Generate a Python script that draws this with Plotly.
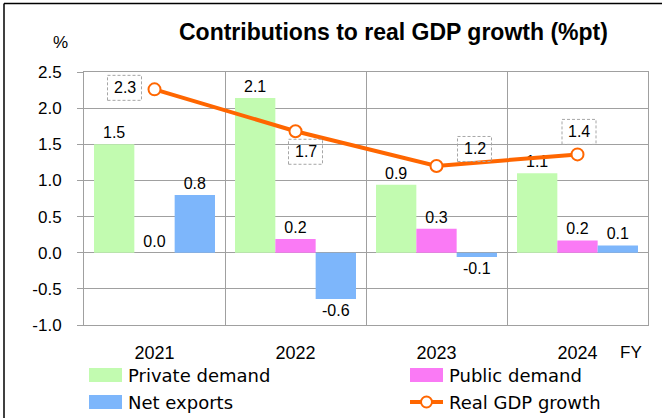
import plotly.graph_objects as go

# ---------------- data ----------------
years = ["2021", "2022", "2023", "2024"]
private_demand = [1.50, 2.14, 0.94, 1.10]
public_demand = [0.00, 0.19, 0.33, 0.17]
net_exports = [0.80, -0.64, -0.06, 0.10]
real_gdp = [2.26, 1.68, 1.20, 1.36]
series_names = ["Private demand", "Public demand", "Net exports", "Real GDP growth"]
y_ticks = [-1.0, -0.5, 0.0, 0.5, 1.0, 1.5, 2.0, 2.5]
title_text = "Contributions to real GDP growth (%pt)"
unit_text = "%"
fy_text = "FY"

# ---------------- styling / layout constants ----------------
W, H = 662, 418
ML, MR, MT, MB = 84, 14, 72, 93
PW, PH = W - ML - MR, H - MT - MB
GRID = "#a0a0a0"
NUM_FONT = "Liberation Sans"
TXT_FONT = "DejaVu Sans"
COL_PRIV = "#c2fbb0"
COL_PUB = "#fa7af5"
COL_NET = "#7db6fb"
COL_GDP = "#ff6600"


def px(x):
    return (x - ML) / PW


def py(y):
    return (H - MB - y) / PH


def fmt(v):
    return f"{v:.1f}"


fig = go.Figure()
label_font = dict(family=NUM_FONT, size=16, color="black")
for vals, name, col in [(private_demand, series_names[0], COL_PRIV),
                        (public_demand, series_names[1], COL_PUB),
                        (net_exports, series_names[2], COL_NET)]:
    fig.add_trace(go.Bar(
        x=years, y=vals, name=name, marker=dict(color=col, line=dict(width=0)),
        text=[fmt(v) for v in vals], textposition="outside", textfont=label_font,
        cliponaxis=False, showlegend=False))

fig.add_trace(go.Scatter(
    x=years, y=real_gdp, name=series_names[3], mode="lines+markers",
    line=dict(color=COL_GDP, width=4),
    marker=dict(symbol="circle", size=12, color="white",
                line=dict(color=COL_GDP, width=2)),
    cliponaxis=False, showlegend=False))

# GDP labels in dashed boxes (pixel offsets relative to each point)
offsets = [(-30, 1.5), (10, -20.5), (38, 17), (1.5, 22.5)]
shapes = []
annotations = []
for i, (v, (dx, dy)) in enumerate(zip(real_gdp, offsets)):
    annotations.append(dict(x=i, y=v, xref="x", yref="y", text=fmt(v),
                            showarrow=False, xshift=dx, yshift=dy,
                            xanchor="center", yanchor="middle",
                            font=dict(family=NUM_FONT, size=16, color="black")))
    shapes.append(dict(type="rect", xref="x", yref="y", xsizemode="pixel",
                       ysizemode="pixel", xanchor=i, yanchor=v,
                       x0=dx - 17, x1=dx + 17, y0=dy - 12.5, y1=dy + 12.5,
                       line=dict(color="#a6a6a6", width=1, dash="3px,2px"),
                       fillcolor="rgba(0,0,0,0)", layer="above"))

# title, unit, FY
annotations.append(dict(xref="paper", yref="paper", x=px(393), y=py(32),
                        text=f"<b>{title_text}</b>", showarrow=False,
                        font=dict(family=NUM_FONT, size=23, color="black"),
                        xanchor="center", yanchor="middle"))
annotations.append(dict(xref="paper", yref="paper", x=px(60), y=py(42),
                        text=unit_text, showarrow=False,
                        font=dict(family=NUM_FONT, size=17, color="black"),
                        xanchor="center", yanchor="middle"))
annotations.append(dict(xref="paper", yref="paper", x=px(631), y=py(352),
                        text=fy_text, showarrow=False,
                        font=dict(family=NUM_FONT, size=17, color="black"),
                        xanchor="center", yanchor="middle"))

# custom legend
leg = [(series_names[0], COL_PRIV, 89, 375, "bar"),
       (series_names[1], COL_PUB, 410, 375, "bar"),
       (series_names[2], COL_NET, 89, 402, "bar"),
       (series_names[3], COL_GDP, 410, 402, "line")]
for name, col, lx, ly, kind in leg:
    if kind == "bar":
        shapes.append(dict(type="rect", xref="paper", yref="paper",
                           x0=px(lx), x1=px(lx + 33), y0=py(ly + 7), y1=py(ly - 7),
                           fillcolor=col, line=dict(width=0)))
    else:
        shapes.append(dict(type="line", xref="paper", yref="paper",
                           x0=px(lx), x1=px(lx + 33), y0=py(ly), y1=py(ly),
                           line=dict(color=col, width=4)))
        shapes.append(dict(type="circle", xref="paper", yref="paper",
                           x0=px(lx + 11), x1=px(lx + 22), y0=py(ly + 5.5), y1=py(ly - 5.5),
                           fillcolor="white", line=dict(color=col, width=2)))
    annotations.append(dict(xref="paper", yref="paper", x=px(lx + 37), y=py(ly),
                            text=name, showarrow=False, xanchor="left", yanchor="middle",
                            font=dict(family=TXT_FONT, size=18, color="black")))

# outer border (top and left)
shapes.append(dict(type="line", xref="paper", yref="paper", x0=px(4), x1=px(W + 5),
                   y0=py(3.5), y1=py(3.5), line=dict(color="black", width=1.5)))
shapes.append(dict(type="line", xref="paper", yref="paper", x0=px(4), x1=px(4),
                   y0=py(3.5), y1=py(H + 5), line=dict(color="black", width=1.5)))

fig.update_layout(
    width=W, height=H, margin=dict(l=ML, r=MR, t=MT, b=MB, pad=0),
    paper_bgcolor="white", plot_bgcolor="white",
    barmode="group", bargap=0.142, bargroupgap=0,
    showlegend=False,
    shapes=shapes, annotations=annotations,
    xaxis=dict(type="category", categoryorder="array", categoryarray=years,
               range=[-0.5, len(years) - 0.5], autorange=False,
               tickson="boundaries", showgrid=True, gridcolor=GRID,
               gridwidth=1, showline=True, linecolor=GRID, linewidth=1, mirror=True,
               ticks="", ticklabelstandoff=11,
               tickfont=dict(family=NUM_FONT, size=18, color="black")),
    yaxis=dict(range=[-1.0, 2.5], autorange=False, tickvals=y_ticks,
               ticktext=[fmt(v) for v in y_ticks],
               showgrid=True, gridcolor=GRID, gridwidth=1,
               zeroline=True, zerolinecolor=GRID, zerolinewidth=1,
               showline=True, linecolor=GRID, linewidth=1, mirror=True,
               ticks="outside", ticklen=6, tickcolor=GRID, ticklabelstandoff=12,
               tickfont=dict(family=NUM_FONT, size=17, color="black")),
)

fig.write_html("out.html")
